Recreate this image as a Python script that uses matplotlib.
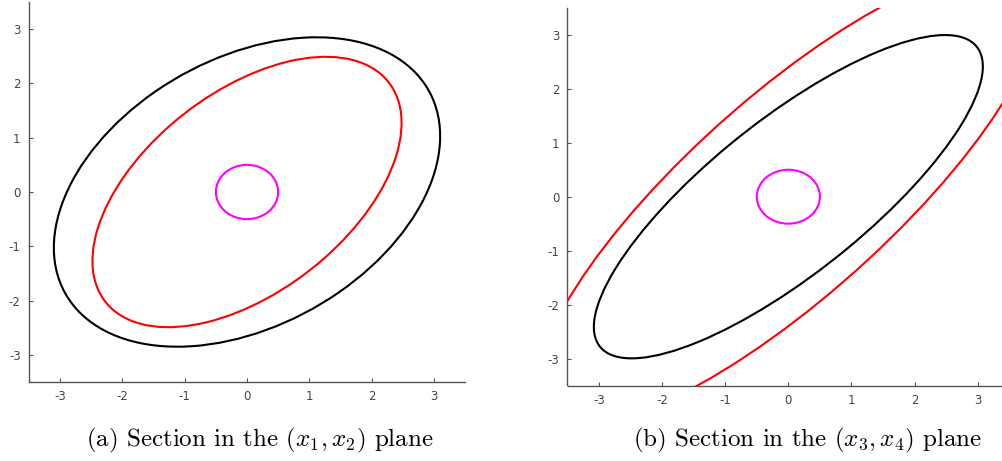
import numpy as np
from matplotlib import pyplot as plt
from matplotlib.patches import Ellipse

plt.rcParams['mathtext.fontset'] = 'cm'
plt.rcParams['axes.unicode_minus'] = False

# ellipses: (width, height, angle in degrees), centred at the origin
left_black = (6.97, 4.73, 38.4)
left_red = (6.11, 3.48, 45.2)
left_magenta = (1.0, 1.0, 0.0)

right_black = (8.17, 2.68, 44.0)
right_red = (11.10, 3.44, 47.2)
right_magenta = (1.0, 1.0, 0.0)

ticks = [-3, -2, -1, 0, 1, 2, 3]
lims = (-3.5, 3.5)

captions = [r'(a) Section in the $(x_1,x_2)$ plane',
            r'(b) Section in the $(x_3,x_4)$ plane']

fig = plt.figure(figsize=(10.03, 4.61), dpi=100)
ax1 = fig.add_axes([29/1003, 79/461, 436/1003, 380/461])
ax2 = fig.add_axes([567.5/1003, 75.5/461, 441.7/1003, 377.6/461])

panels = [
    (ax1, [(left_black, 'black'), (left_red, 'red'), (left_magenta, 'magenta')]),
    (ax2, [(right_black, 'black'), (right_red, 'red'), (right_magenta, 'magenta')]),
]

for ax, shapes in panels:
    for (w, h, ang), col in shapes:
        ax.add_patch(Ellipse((0, 0), w, h, angle=ang, fill=False,
                             edgecolor=col, linewidth=1.5))
    ax.set_xlim(lims)
    ax.set_ylim(lims)
    ax.set_xticks(ticks)
    ax.set_yticks(ticks)
    ax.spines['top'].set_visible(False)
    ax.spines['right'].set_visible(False)
    for s in ['left', 'bottom']:
        ax.spines[s].set_color('#555555')
        ax.spines[s].set_linewidth(1.0)
    ax.tick_params(direction='in', length=3, width=0.8, color='#555555',
                   labelcolor='#444444', labelsize=8.5, pad=6)

fig.text(260/1003, 1 - 440/461, captions[0], ha='center', va='center',
         family='cmr10', fontsize=18)
fig.text(807/1003, 1 - 440/461, captions[1], ha='center', va='center',
         family='cmr10', fontsize=18)

fig.savefig('out.png', dpi=100)
